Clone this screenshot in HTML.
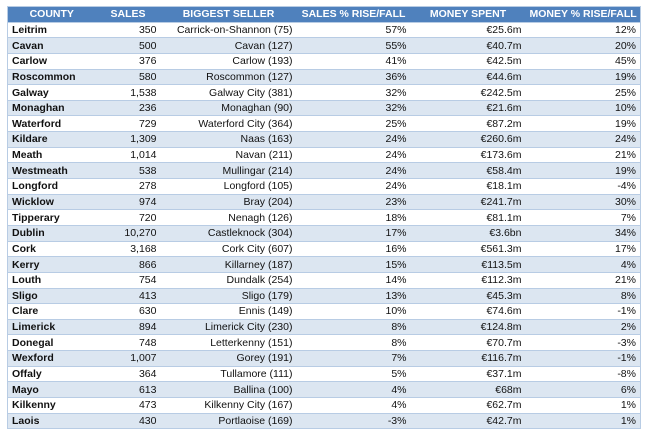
<!DOCTYPE html>
<html><head><meta charset="utf-8"><style>
body{margin:0;background:#fff;width:650px;height:437px;overflow:hidden}
table{position:absolute;left:7px;top:6px;border-collapse:collapse;font-family:"Liberation Sans",sans-serif;font-size:10.5px;color:#111;table-layout:fixed;width:633px;border:1px solid #b8cce4}
tr{height:15.65px}
td,th{height:auto;padding:0 4px;border-top:1px solid #b8cce4;white-space:nowrap;text-align:right;line-height:12px;overflow:hidden}
th{background:#4f81bd;color:#fff;font-weight:bold;text-align:center;border:none;font-size:10.5px}
tr:nth-child(odd) td{background:#dce6f1}
tr:nth-child(even) td{background:#fff}
td:first-child{text-align:left;font-weight:bold}
</style></head><body>
<table>
<colgroup><col style="width:88px"><col style="width:65px"><col style="width:136px"><col style="width:114px"><col style="width:115px"><col style="width:115px"></colgroup>
<tr><th>COUNTY</th><th>SALES</th><th>BIGGEST SELLER</th><th>SALES % RISE/FALL</th><th>MONEY SPENT</th><th>MONEY % RISE/FALL</th></tr>
<tr><td>Leitrim</td><td>350</td><td>Carrick-on-Shannon (75)</td><td>57%</td><td>€25.6m</td><td>12%</td></tr>
<tr><td>Cavan</td><td>500</td><td>Cavan (127)</td><td>55%</td><td>€40.7m</td><td>20%</td></tr>
<tr><td>Carlow</td><td>376</td><td>Carlow (193)</td><td>41%</td><td>€42.5m</td><td>45%</td></tr>
<tr><td>Roscommon</td><td>580</td><td>Roscommon (127)</td><td>36%</td><td>€44.6m</td><td>19%</td></tr>
<tr><td>Galway</td><td>1,538</td><td>Galway City (381)</td><td>32%</td><td>€242.5m</td><td>25%</td></tr>
<tr><td>Monaghan</td><td>236</td><td>Monaghan (90)</td><td>32%</td><td>€21.6m</td><td>10%</td></tr>
<tr><td>Waterford</td><td>729</td><td>Waterford City (364)</td><td>25%</td><td>€87.2m</td><td>19%</td></tr>
<tr><td>Kildare</td><td>1,309</td><td>Naas (163)</td><td>24%</td><td>€260.6m</td><td>24%</td></tr>
<tr><td>Meath</td><td>1,014</td><td>Navan (211)</td><td>24%</td><td>€173.6m</td><td>21%</td></tr>
<tr><td>Westmeath</td><td>538</td><td>Mullingar (214)</td><td>24%</td><td>€58.4m</td><td>19%</td></tr>
<tr><td>Longford</td><td>278</td><td>Longford (105)</td><td>24%</td><td>€18.1m</td><td>-4%</td></tr>
<tr><td>Wicklow</td><td>974</td><td>Bray (204)</td><td>23%</td><td>€241.7m</td><td>30%</td></tr>
<tr><td>Tipperary</td><td>720</td><td>Nenagh (126)</td><td>18%</td><td>€81.1m</td><td>7%</td></tr>
<tr><td>Dublin</td><td>10,270</td><td>Castleknock (304)</td><td>17%</td><td>€3.6bn</td><td>34%</td></tr>
<tr><td>Cork</td><td>3,168</td><td>Cork City (607)</td><td>16%</td><td>€561.3m</td><td>17%</td></tr>
<tr><td>Kerry</td><td>866</td><td>Killarney (187)</td><td>15%</td><td>€113.5m</td><td>4%</td></tr>
<tr><td>Louth</td><td>754</td><td>Dundalk (254)</td><td>14%</td><td>€112.3m</td><td>21%</td></tr>
<tr><td>Sligo</td><td>413</td><td>Sligo (179)</td><td>13%</td><td>€45.3m</td><td>8%</td></tr>
<tr><td>Clare</td><td>630</td><td>Ennis (149)</td><td>10%</td><td>€74.6m</td><td>-1%</td></tr>
<tr><td>Limerick</td><td>894</td><td>Limerick City (230)</td><td>8%</td><td>€124.8m</td><td>2%</td></tr>
<tr><td>Donegal</td><td>748</td><td>Letterkenny (151)</td><td>8%</td><td>€70.7m</td><td>-3%</td></tr>
<tr><td>Wexford</td><td>1,007</td><td>Gorey (191)</td><td>7%</td><td>€116.7m</td><td>-1%</td></tr>
<tr><td>Offaly</td><td>364</td><td>Tullamore (111)</td><td>5%</td><td>€37.1m</td><td>-8%</td></tr>
<tr><td>Mayo</td><td>613</td><td>Ballina (100)</td><td>4%</td><td>€68m</td><td>6%</td></tr>
<tr><td>Kilkenny</td><td>473</td><td>Kilkenny City (167)</td><td>4%</td><td>€62.7m</td><td>1%</td></tr>
<tr><td>Laois</td><td>430</td><td>Portlaoise (169)</td><td>-3%</td><td>€42.7m</td><td>1%</td></tr>
</table>
</body></html>
